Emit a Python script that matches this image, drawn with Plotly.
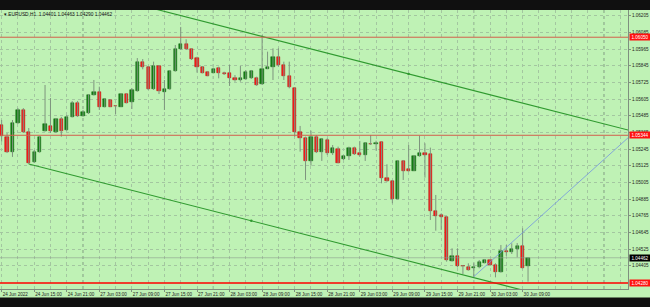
import plotly.graph_objects as go
import pandas as pd

# ---------------- data ----------------
times = list(pd.date_range("2022-06-24 09:00", "2022-06-24 23:00", freq="h")) + \
        list(pd.date_range("2022-06-27 00:00", "2022-06-30 10:00", freq="h"))

opens = [
    1.05418, 1.05334, 1.05226, 1.05430, 1.05526, 1.05370, 1.05154, 1.05226, 1.05377, 1.05411,
    1.05370, 1.05459, 1.05382, 1.05478, 1.05579, 1.05483, 1.05502, 1.05634, 1.05656, 1.05550,
    1.05598, 1.05555, 1.05550, 1.05641, 1.05586, 1.05665, 1.05869, 1.05833, 1.05675, 1.05845,
    1.05658, 1.05675, 1.05809, 1.05963, 1.05999, 1.05965, 1.05898, 1.05838, 1.05802, 1.05795,
    1.05826, 1.05790, 1.05790, 1.05754, 1.05742, 1.05749, 1.05754, 1.05754, 1.05711, 1.05823,
    1.05833, 1.05910, 1.05850, 1.05773, 1.05682, 1.05370, 1.05322, 1.05159, 1.05334, 1.05221,
    1.05310, 1.05214, 1.05245, 1.05173, 1.05197, 1.05255, 1.05214, 1.05202, 1.05281, 1.05279,
    1.05293, 1.05039, 1.05017, 1.04887, 1.05161, 1.05099, 1.05089, 1.05195, 1.05219, 1.05207,
    1.04801, 1.04770, 1.04758, 1.04439, 1.04475, 1.04405, 1.04393, 1.04386, 1.04393, 1.04427,
    1.04446, 1.04410, 1.04362, 1.04513, 1.04506, 1.04523, 1.04547, 1.04401]
highs = [
    1.05454, 1.05360, 1.05454, 1.05540, 1.05540, 1.05396, 1.05238, 1.05339, 1.05706, 1.05612,
    1.05468, 1.05476, 1.05490, 1.05591, 1.05591, 1.05526, 1.05641, 1.05742, 1.05694, 1.05612,
    1.05605, 1.05560, 1.05648, 1.05646, 1.05684, 1.05900, 1.05893, 1.05843, 1.05874, 1.05850,
    1.05742, 1.05814, 1.05994, 1.06124, 1.06035, 1.05970, 1.05910, 1.05843, 1.05807, 1.05831,
    1.05838, 1.05802, 1.05850, 1.05778, 1.05843, 1.05814, 1.05814, 1.05766, 1.06066, 1.05946,
    1.05970, 1.05970, 1.05874, 1.05874, 1.05689, 1.05411, 1.05334, 1.05377, 1.05346, 1.05322,
    1.05322, 1.05274, 1.05262, 1.05202, 1.05262, 1.05262, 1.05303, 1.05293, 1.05346, 1.05305,
    1.05298, 1.05135, 1.05022, 1.05166, 1.05166, 1.05274, 1.05202, 1.05341, 1.05286, 1.05255,
    1.04914, 1.04782, 1.04763, 1.04530, 1.04530, 1.04410, 1.04422, 1.04422, 1.04446, 1.04453,
    1.04451, 1.04422, 1.04554, 1.04554, 1.04566, 1.04568, 1.04674, 1.04463]
lows = [
    1.05298, 1.05216, 1.05188, 1.05425, 1.05360, 1.05137, 1.05144, 1.05219, 1.05370, 1.05360,
    1.05360, 1.05334, 1.05377, 1.05473, 1.05476, 1.05478, 1.05497, 1.05630, 1.05526, 1.05545,
    1.05548, 1.05497, 1.05548, 1.05574, 1.05533, 1.05658, 1.05819, 1.05670, 1.05670, 1.05641,
    1.05526, 1.05670, 1.05802, 1.05958, 1.05958, 1.05886, 1.05795, 1.05790, 1.05769, 1.05790,
    1.05754, 1.05778, 1.05699, 1.05730, 1.05730, 1.05742, 1.05749, 1.05699, 1.05706, 1.05821,
    1.05742, 1.05838, 1.05742, 1.05682, 1.05334, 1.05226, 1.05022, 1.05125, 1.05216, 1.05159,
    1.05202, 1.05202, 1.05142, 1.05166, 1.05166, 1.05202, 1.05190, 1.05159, 1.05274, 1.05233,
    1.04998, 1.05010, 1.04854, 1.04883, 1.05022, 1.05082, 1.05087, 1.05190, 1.05039, 1.04734,
    1.04657, 1.04662, 1.04434, 1.04434, 1.04393, 1.04345, 1.04369, 1.04326, 1.04386, 1.04422,
    1.04403, 1.04321, 1.04355, 1.04475, 1.04489, 1.04465, 1.04386, 1.04290]
closes = [
    1.05339, 1.05226, 1.05430, 1.05526, 1.05370, 1.05147, 1.05226, 1.05334, 1.05423, 1.05375,
    1.05459, 1.05377, 1.05478, 1.05579, 1.05483, 1.05512, 1.05634, 1.05658, 1.05550, 1.05603,
    1.05550, 1.05553, 1.05641, 1.05579, 1.05670, 1.05869, 1.05833, 1.05677, 1.05843, 1.05665,
    1.05675, 1.05809, 1.05963, 1.05999, 1.05965, 1.05893, 1.05833, 1.05795, 1.05773, 1.05823,
    1.05790, 1.05787, 1.05754, 1.05742, 1.05759, 1.05800, 1.05807, 1.05706, 1.05819, 1.05833,
    1.05910, 1.05850, 1.05773, 1.05689, 1.05370, 1.05322, 1.05159, 1.05334, 1.05226, 1.05315,
    1.05214, 1.05250, 1.05147, 1.05197, 1.05250, 1.05209, 1.05202, 1.05286, 1.05279, 1.05291,
    1.05034, 1.05015, 1.04883, 1.05161, 1.05089, 1.05087, 1.05197, 1.05219, 1.05202, 1.04799,
    1.04765, 1.04758, 1.04446, 1.04475, 1.04403, 1.04403, 1.04374, 1.04398, 1.04434, 1.04446,
    1.04410, 1.04362, 1.04513, 1.04504, 1.04525, 1.04549, 1.04391, 1.04462]

symbol = "EURUSD,H1"
level_lines = [1.06050, 1.05344]      # thin red horizontal lines
support_level = 1.04280               # bold red line
upper_trend = ([48, 75], [1.06056, 1.05786])
lower_trend = ([5, 46], [1.05137, 1.04728])
blue_trend = ([87, 111], [1.04326, 1.05170])
price_ticks = [1.04405 + 0.0012 * k for k in range(16)]

# ---------------- styling ----------------
BG = "#BFF2B5"
BULL = "#138213"
BEAR = "#FF1A1A"
WICK = "#7E947E"
GRID = "#A3C6A0"
FONT = "Liberation Sans"

n = len(opens)
idx = list(range(n))

fig = go.Figure()

# wicks
wx, wy = [], []
for i in idx:
    wx += [i, i, None]
    wy += [highs[i], lows[i], None]
fig.add_trace(go.Scatter(x=wx, y=wy, mode="lines", line=dict(color=WICK, width=1),
                         hoverinfo="skip", showlegend=False))

# bodies
base = [min(o, c) for o, c in zip(opens, closes)]
hgt = [max(abs(c - o), 0.000012) for o, c in zip(opens, closes)]
cols = [BULL if c > o else BEAR for o, c in zip(opens, closes)]
lcols = ["#0B5E0B" if c > o else "#B00000" for o, c in zip(opens, closes)]
fig.add_trace(go.Bar(x=idx, y=hgt, base=base, width=0.6,
                     marker=dict(color=cols, line=dict(color=lcols, width=0.5)),
                     hoverinfo="skip", showlegend=False))

def extend(line, x_from, x_to):
    (x0, x1), (y0, y1) = line
    s = (y1 - y0) / (x1 - x0)
    return [x_from, x_to], [y0 + s * (x_from - x0), y0 + s * (x_to - x0)]

X_END = 125
for line, start, color, w in [(upper_trend, 0, "#2F9A2F", 1.1),
                              (lower_trend, lower_trend[0][0], "#2F9A2F", 1.1),
                              (blue_trend, blue_trend[0][0], "#7396E0", 0.8)]:
    xs, ys = extend(line, start, X_END)
    fig.add_trace(go.Scatter(x=xs, y=ys, mode="lines", line=dict(color=color, width=w),
                             hoverinfo="skip", showlegend=False))
fig.add_trace(go.Scatter(x=[upper_trend[0][1], lower_trend[0][1]],
                         y=[upper_trend[1][1], lower_trend[1][1]], mode="markers",
                         marker=dict(color="#2F9A2F", size=2.5), hoverinfo="skip",
                         showlegend=False))

shapes = []
# black bands top and bottom
shapes.append(dict(type="rect", xref="paper", yref="paper", x0=-0.01, x1=1.05,
                   y0=1.0, y1=1.0 + 11 / 279, fillcolor="#101010", line=dict(width=0), layer="above"))
shapes.append(dict(type="rect", xref="paper", yref="paper", x0=-0.01, x1=1.05,
                   y0=-8.5 / 279, y1=-19 / 279, fillcolor="#101010", line=dict(width=0), layer="above"))
# day separators
day_starts = [i for i, t in enumerate(times) if t.hour == 0]
day_starts.append(day_starts[-1] + 24)
for d in day_starts:
    shapes.append(dict(type="line", xref="x", yref="paper", x0=d, x1=d, y0=0, y1=1,
                       line=dict(color="#6A8A6A", width=0.8, dash="dot"), layer="below"))
# horizontal levels
for lv in level_lines:
    shapes.append(dict(type="line", xref="paper", yref="y", x0=0, x1=1, y0=lv, y1=lv,
                       line=dict(color="#D2604C", width=1)))
shapes.append(dict(type="line", xref="paper", yref="y", x0=0, x1=1, y0=support_level,
                   y1=support_level, line=dict(color="#FF0000", width=1.6)))
shapes.append(dict(type="line", xref="paper", yref="y", x0=0, x1=1, y0=closes[-1],
                   y1=closes[-1], line=dict(color="#8E9E8E", width=0.6)))

annotations = []
for lv, bg in [(level_lines[0], "#FF1010"), (level_lines[1], "#FF1010"),
               (support_level, "#FF1010"), (closes[-1], "#000000")]:
    annotations.append(dict(xref="paper", yref="y", x=1, y=lv, xanchor="left",
                            yanchor="middle", xshift=1, text=f"{lv:.5f}", showarrow=False,
                            bgcolor=bg, font=dict(family=FONT, size=4.6, color="white"),
                            width=20, height=6, borderpad=0))
annotations.append(dict(xref="paper", yref="paper", x=0, y=1 - 4 / 279, xanchor="left",
                        yanchor="middle", xshift=2, showarrow=False,
                        text=f"▾ {symbol}  {opens[-1]:.5f} {highs[-1]:.5f} {lows[-1]:.5f} {closes[-1]:.5f}",
                        font=dict(family=FONT, size=4.8, color="#111111")))

tick_idx = [i for i in idx if i % 6 == 0]
tick_txt = [times[i].strftime("%d %b %Y") if i == 0 else times[i].strftime("%d %b %H:%M")
            for i in tick_idx]

fig.update_layout(
    width=650, height=307,
    margin=dict(l=0, r=22, t=10, b=18),
    paper_bgcolor=BG, plot_bgcolor=BG,
    bargap=0, showlegend=False,
    shapes=shapes, annotations=annotations,
    xaxis=dict(range=[-0.3, 115.42], tickmode="array", tickvals=tick_idx, ticktext=tick_txt,
               tickangle=0, ticklabelposition="outside right", ticks="outside", ticklen=2,
               tickcolor="#7F8F7F", tickfont=dict(family=FONT, size=4.6, color="#222222"),
               showgrid=True, gridcolor=GRID, griddash="dot", gridwidth=0.8,
               minor=dict(tickmode="linear", tick0=0, dtick=3, showgrid=True,
                          gridcolor=GRID, griddash="dot", gridwidth=0.8),
               showline=True, linecolor="#7F8F7F", linewidth=1, mirror=True,
               zeroline=False, fixedrange=True),
    yaxis=dict(range=[1.04237, 1.06246], side="right", tickmode="array",
               tickvals=price_ticks, ticktext=[f"{p:.5f}" for p in price_ticks],
               ticks="outside", ticklen=2, tickcolor="#7F8F7F",
               tickfont=dict(family=FONT, size=4.6, color="#222222"),
               showgrid=True, gridcolor=GRID, griddash="dot", gridwidth=0.8,
               showline=True, linecolor="#7F8F7F", linewidth=1, mirror=True,
               zeroline=False, fixedrange=True),
)

fig.write_html("out.html")
